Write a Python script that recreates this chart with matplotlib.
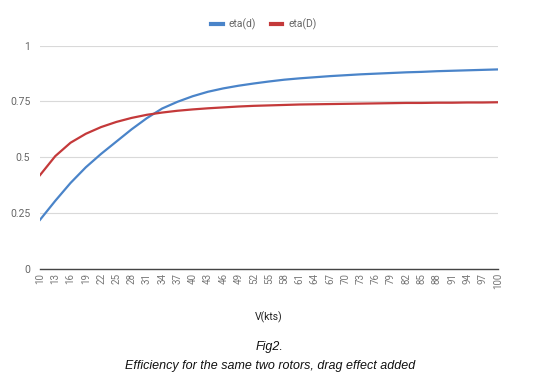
import matplotlib
matplotlib.use("Agg")
import matplotlib.pyplot as plt

# speeds (kts), one value every 3 kts as on the axis
v_kts = list(range(10, 101, 3))

# efficiency without drag term (d) and with drag (D)
eta_d = [0.22, 0.305, 0.385, 0.455, 0.515, 0.57, 0.625, 0.675, 0.718, 0.748,
         0.773, 0.793, 0.808, 0.82, 0.83, 0.839, 0.847, 0.853, 0.858, 0.863,
         0.867, 0.871, 0.874, 0.877, 0.88, 0.882, 0.885, 0.887, 0.889, 0.891,
         0.893]
eta_D = [0.42, 0.505, 0.565, 0.605, 0.635, 0.658, 0.676, 0.69, 0.70, 0.708,
         0.714, 0.719, 0.723, 0.727, 0.730, 0.732, 0.734, 0.736, 0.737, 0.738,
         0.739, 0.740, 0.741, 0.742, 0.743, 0.743, 0.744, 0.744, 0.745, 0.745,
         0.746]

y_ticks = [0, 0.25, 0.5, 0.75, 1]
y_labels = ["0", "0.25", "0.5", "0.75", "1"]

plt.rcParams['font.family'] = ['Roboto', 'DejaVu Sans']

fig = plt.figure(figsize=(5.4, 3.78), dpi=100)
ax = fig.add_axes([40 / 540, 1 - 269 / 378, 458 / 540, 223.5 / 378])

ax.plot(v_kts, eta_d, color="#4a84c9", lw=1.6, label="eta(d)")
ax.plot(v_kts, eta_D, color="#c4393a", lw=1.6, label="eta(D)")

ax.set_xlim(10, 100)
ax.set_ylim(0, 1)
ax.set_xticks(v_kts)
ax.set_xticklabels([str(v) for v in v_kts], rotation=90, fontsize=7, color="#777777")
ax.set_yticks(y_ticks)
ax.set_yticklabels(y_labels, fontsize=7.5, color="#666666")
ax.tick_params(axis="both", length=0)
ax.tick_params(axis="x", pad=3)
ax.tick_params(axis="y", pad=7)

for s in ["top", "right", "left"]:
    ax.spines[s].set_visible(False)
ax.spines["bottom"].set_color("#444444")
ax.spines["bottom"].set_linewidth(1.0)
ax.grid(axis="y", color="#d9d9d9", lw=0.8)
ax.set_axisbelow(True)

ax.set_xlabel("V(kts)", fontsize=7.5, color="#222222", labelpad=16)

leg = ax.legend(loc="center", bbox_to_anchor=(0.5 - 5 / 458, 1 + 21.5 / 223.5), ncol=2,
                frameon=False, fontsize=7.5, handlelength=1.1, columnspacing=1.4,
                handletextpad=0.6)
for t in leg.get_texts():
    t.set_color("#666666")
for h in leg.get_lines():
    h.set_linewidth(3)

fig.text(0.5, 1 - 347 / 378, "Fig2.", ha="center", va="center", style="italic",
         fontsize=9, family="Liberation Sans", color="#111111")
fig.text(0.5, 1 - 366 / 378, "Efficiency for the same two rotors, drag effect added",
         ha="center", va="center", style="italic", fontsize=9,
         family="Liberation Sans", color="#111111")

fig.savefig("out.png", dpi=100)
